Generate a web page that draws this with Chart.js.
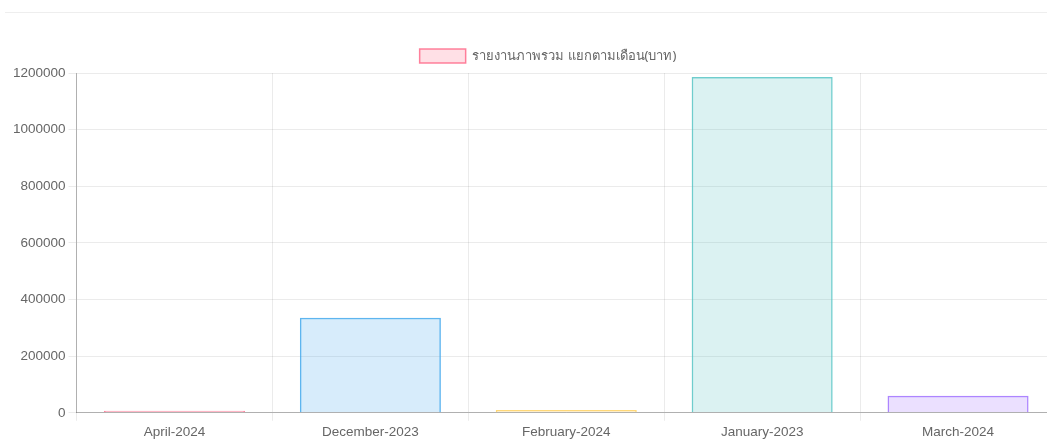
<!DOCTYPE html>
<html>
<head>
<meta charset="utf-8">
<script src="https://cdn.jsdelivr.net/npm/chart.js@4"></script>
<style>
    html, body { margin: 0; padding: 0; background: #fff; overflow: hidden; }
    .topline { position: absolute; left: 5px; right: 0; top: 12px; border-top: 1px solid #eee; }
    .chart-box { position: absolute; left: 10px; top: 39px; width: 1046px; height: 404px; }
</style>
</head>
<body>
<div class="topline"></div>
<div class="chart-box"><canvas id="reportChart"></canvas></div>
<script>
// ข้อมูลรายเดือน
const months = ['April-2024', 'December-2023', 'February-2024', 'January-2023', 'March-2024'];
const totals = [7000, 336000, 10000, 1186000, 60000];
const fillColors = ['rgba(255, 99, 132, 0.2)', 'rgba(54, 162, 235, 0.2)', 'rgba(255, 206, 86, 0.2)', 'rgba(75, 192, 192, 0.2)', 'rgba(153, 102, 255, 0.2)'];
const lineColors = ['rgba(255, 99, 132, 0.8)', 'rgba(54, 162, 235, 0.8)', 'rgba(255, 206, 86, 0.8)', 'rgba(75, 192, 192, 0.8)', 'rgba(153, 102, 255, 0.8)'];
const yTicks = [0, 200000, 400000, 600000, 800000, 1000000, 1200000];

Chart.defaults.font.family = "Arial, 'Liberation Sans', Helvetica, sans-serif";
Chart.defaults.font.size = 13.5;
Chart.defaults.color = '#666';

// เลื่อนคำอธิบายให้ตรงกับต้นฉบับ
const legendShift = {
    id: 'legendShift',
    afterLayout(chart) {
        if (chart.legend) {
            chart.legend.left += 15;
            chart.legend.right += 15;
        }
    }
};

const ctx = document.getElementById('reportChart').getContext('2d');
new Chart(ctx, {
    type: 'bar',
    data: {
        labels: months,
        datasets: [{
            label: 'รายงานภาพรวม แยกตามเดือน(บาท)',
            data: totals,
            backgroundColor: fillColors,
            borderColor: lineColors,
            borderWidth: 1.5
        }]
    },
    options: {
        responsive: true,
        maintainAspectRatio: false,
        animation: false,
        plugins: {
            legend: {
                labels: { boxWidth: 46, boxHeight: 14, font: { family: "'Noto Sans', Tahoma, sans-serif", size: 13 } }
            },
            tooltip: { enabled: false }
        },
        scales: {
            y: {
                min: yTicks[0],
                max: yTicks[yTicks.length - 1],
                ticks: { stepSize: 200000, callback: v => String(v) },
                grid: { color: 'rgba(0,0,0,0.08)' },
                border: { color: 'rgba(0,0,0,0.25)' }
            },
            x: {
                grid: { color: 'rgba(0,0,0,0.08)' },
                border: { color: 'rgba(0,0,0,0.25)' }
            }
        }
    },
    plugins: [legendShift]
});
</script>
</body>
</html>
